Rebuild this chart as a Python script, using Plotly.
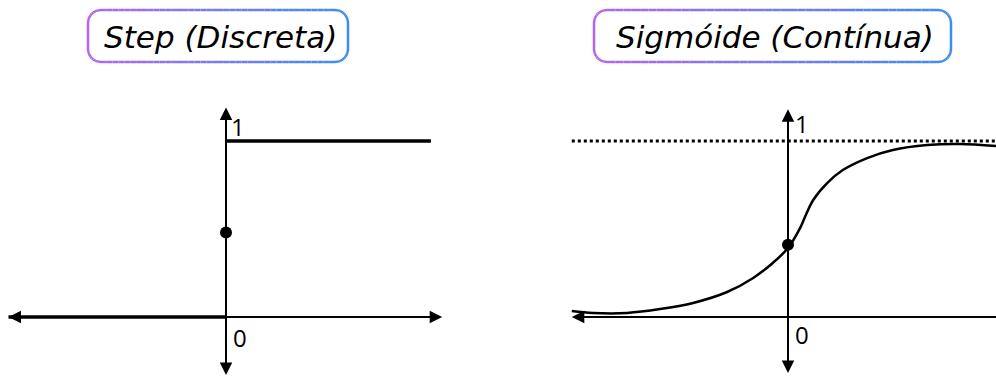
import math
import plotly.graph_objects as go

W, H = 996, 376

# ---------------- data ----------------
step_x = [-5.0, 0.0, None, 0.0, 4.71]
step_y = [0.0, 0.0, None, 1.0, 1.0]
step_dot_x = [0.0]
step_dot_y = [0.48]

sig_x = [-4.97, -4.48, -3.70, -2.94, -2.18, -1.40, -0.80, -0.35, 0.0, 0.28, 0.39,
         0.58, 0.90, 1.26, 1.82, 2.41, 3.20, 3.95, 4.78]
sig_y = [0.034, 0.023, 0.023, 0.045, 0.080, 0.142, 0.222, 0.307, 0.392, 0.506, 0.568,
         0.665, 0.761, 0.835, 0.903, 0.949, 0.977, 0.983, 0.972]
sig_dot_x = [0.0]
sig_dot_y = [0.41]
asymptote_x = [-4.97, 5.0]
asymptote_y = [1.0, 1.0]

titles = ["Step (Discreta)", "Sigmóide (Contínua)"]
tick_labels = ["1", "0"]

# ---------------- layout helpers ----------------
PX_X = 43.5   # pixels per x unit
PX_Y = 176.0  # pixels per y unit
ORIG_L = 226  # pixel x of left origin
ORIG_R = 788  # pixel x of right origin
ORIG_Y = 317  # pixel y of origin
half = W / 2

xr1 = [(0 - ORIG_L) / PX_X, (half - ORIG_L) / PX_X]
xr2 = [(half - ORIG_R) / PX_X, (W - ORIG_R) / PX_X]
yr = [(ORIG_Y - H) / PX_Y, ORIG_Y / PX_Y]

fig = go.Figure()

BLACK = "#000000"

def line(x, y, xa, ya, width=2, dash=None, shape="linear"):
    fig.add_trace(go.Scatter(x=x, y=y, mode="lines", xaxis=xa, yaxis=ya,
                             line=dict(color=BLACK, width=width, dash=dash, shape=shape),
                             hoverinfo="skip", showlegend=False))

# left panel axes
line([-4.9, 4.9], [0, 0], "x", "y")
line([0, 0], [-0.30, 1.16], "x", "y")
# right panel axes
line([-4.9, 5.5], [0, 0], "x2", "y2")
line([0, 0], [-0.29, 1.15], "x2", "y2")

# step function
line(step_x, step_y, "x", "y", width=3.5)
fig.add_trace(go.Scatter(x=step_dot_x, y=step_dot_y, mode="markers", xaxis="x", yaxis="y",
                         marker=dict(color=BLACK, size=12), hoverinfo="skip", showlegend=False))

# sigmoid
line(asymptote_x, asymptote_y, "x2", "y2", width=2.8, dash="dot")
line(sig_x, sig_y, "x2", "y2", width=2.5, shape="spline")
fig.add_trace(go.Scatter(x=sig_dot_x, y=sig_dot_y, mode="markers", xaxis="x2", yaxis="y2",
                         marker=dict(color=BLACK, size=12), hoverinfo="skip", showlegend=False))

annotations = []

def arrow(xa, ya, tip, tail):
    annotations.append(dict(xref=xa, yref=ya, axref=xa, ayref=ya,
                            x=tip[0], y=tip[1], ax=tail[0], ay=tail[1],
                            text="", showarrow=True, arrowhead=2, arrowsize=1.25,
                            arrowwidth=2, arrowcolor=BLACK, standoff=0, startstandoff=0))

# left arrows
arrow("x", "y", (-5.0, 0), (-4.6, 0))
arrow("x", "y", (4.97, 0), (4.57, 0))
arrow("x", "y", (0, 1.19), (0, 1.10))
arrow("x", "y", (0, -0.33), (0, -0.24))
# right arrows
arrow("x2", "y2", (-4.97, 0), (-4.57, 0))
arrow("x2", "y2", (0, 1.18), (0, 1.09))
arrow("x2", "y2", (0, -0.318), (0, -0.228))

lab_font = dict(family="Open Sans", size=24, color=BLACK)
for xa, ya, x1, y1, x0, y0 in [("x", "y", 0.28, 1.085, 0.32, -0.119),
                               ("x2", "y2", 0.32, 1.097, 0.32, -0.10)]:
    annotations.append(dict(xref=xa, yref=ya, x=x1, y=y1, text=tick_labels[0],
                            showarrow=False, font=lab_font))
    annotations.append(dict(xref=xa, yref=ya, x=x0, y=y0, text=tick_labels[1],
                            showarrow=False, font=lab_font))

# titles with gradient rounded boxes
title_font = dict(family="DejaVu Sans", size=31, color=BLACK, style="italic")
boxes = [(88, 10, 348, 62), (594, 10, 951, 62)]
PURPLE = (178, 102, 240)
BLUE = (60, 140, 245)

shapes = []

def px2paper(px, py):
    return px / W, 1 - py / H

for (bx0, by0, bx1, by1), t in zip(boxes, titles):
    cx, cy = px2paper((bx0 + bx1) / 2 + 2, (by0 + by1) / 2 + 1)
    annotations.append(dict(xref="paper", yref="paper", x=cx, y=cy, text=t,
                            showarrow=False, font=title_font, xanchor="center", yanchor="middle"))
    r = 13
    pts = []
    n_edge = 40
    n_arc = 10
    for i in range(n_edge + 1):
        pts.append((bx0 + r + (bx1 - bx0 - 2 * r) * i / n_edge, by0))
    for i in range(1, n_arc + 1):
        a = -math.pi / 2 + (math.pi / 2) * i / n_arc
        pts.append((bx1 - r + r * math.cos(a), by0 + r + r * math.sin(a)))
    pts.append((bx1, by1 - r))
    for i in range(1, n_arc + 1):
        a = 0 + (math.pi / 2) * i / n_arc
        pts.append((bx1 - r + r * math.cos(a), by1 - r + r * math.sin(a)))
    for i in range(1, n_edge + 1):
        pts.append((bx1 - r - (bx1 - bx0 - 2 * r) * i / n_edge, by1))
    for i in range(1, n_arc + 1):
        a = math.pi / 2 + (math.pi / 2) * i / n_arc
        pts.append((bx0 + r + r * math.cos(a), by1 - r + r * math.sin(a)))
    pts.append((bx0, by0 + r))
    for i in range(1, n_arc + 1):
        a = math.pi + (math.pi / 2) * i / n_arc
        pts.append((bx0 + r + r * math.cos(a), by0 + r + r * math.sin(a)))
    for (p0, p1) in zip(pts[:-1], pts[1:]):
        tm = ((p0[0] + p1[0]) / 2 - bx0) / (bx1 - bx0)
        c = tuple(int(round(PURPLE[k] + (BLUE[k] - PURPLE[k]) * tm)) for k in range(3))
        a0 = px2paper(*p0)
        a1 = px2paper(*p1)
        shapes.append(dict(type="line", xref="paper", yref="paper",
                           x0=a0[0], y0=a0[1], x1=a1[0], y1=a1[1],
                           line=dict(color="rgb(%d,%d,%d)" % c, width=2.5)))

axis_common = dict(showgrid=False, zeroline=False, showticklabels=False, showline=False,
                   ticks="", fixedrange=True)
fig.update_layout(
    width=W, height=H,
    margin=dict(l=0, r=0, t=0, b=0),
    paper_bgcolor="white", plot_bgcolor="white",
    showlegend=False,
    xaxis=dict(domain=[0, 0.5], range=xr1, **axis_common),
    yaxis=dict(domain=[0, 1], range=yr, **axis_common),
    xaxis2=dict(domain=[0.5, 1], range=xr2, **axis_common),
    yaxis2=dict(domain=[0, 1], range=yr, anchor="x2", **axis_common),
    annotations=annotations,
    shapes=shapes,
)

fig.write_html("out.html", config={"displayModeBar": False},
               post_script="document.body.style.margin='0';document.body.style.overflow='hidden';")
